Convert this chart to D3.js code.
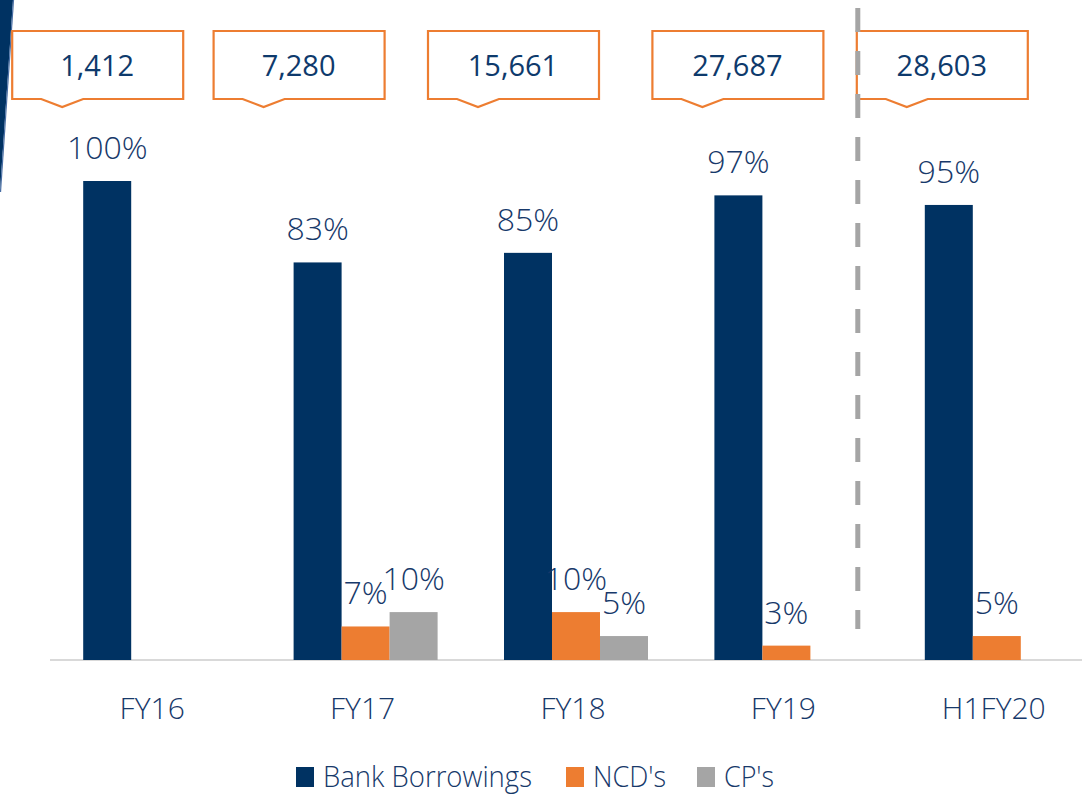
<!DOCTYPE html>
<html lang="en">
<head>
  <meta charset="UTF-8">
  <title>Borrowing mix</title>
  <style>
    html, body { margin: 0; padding: 0; background: #fff; }
    svg { display: block; font-family: "Open Sans", "Noto Sans", sans-serif; font-weight: 300; }
  </style>
</head>
<body>
  <div id="svg"></div>
<script src="https://cdn.jsdelivr.net/npm/d3@7/dist/d3.min.js"></script>
<script type="text/javascript">
  // data (percent of total borrowings)
  const categories = ["FY16", "FY17", "FY18", "FY19", "H1FY20"]
  const seriesNames = ["Bank Borrowings", "NCD's", "CP's"]
  const bank = [100, 83, 85, 97, 95]
  const ncd = [null, 7, 10, 3, 5]
  const cp = [null, 10, 5, null, null]
  // total borrowings shown in the callouts
  const totals = [1412, 7280, 15661, 27687, 28603]

  // layout
  const width = 1086
  const height = 795
  const baseY = 660
  const colors = ["#003262", "#ED7D31", "#A5A5A5"]
  const textColor = "#17396A"
  // callout box left edge relative to category centre
  const calloutLeft = [-143, -152, -148, -134, -140]

  const svg = d3.select("#svg").append("svg").attr("width", width).attr("height", height)

  // decorative slanted band top-left
  svg.append("path").attr("d", "M0,0 L13,0 L0,192 Z").attr("fill", "#003262")
  svg.append("line").attr("x1", 13.5).attr("y1", 0).attr("x2", 0.5).attr("y2", 192)
    .attr("stroke", "#4A6FA5").attr("stroke-width", 1.2)

  const x = d3.scaleBand().domain(categories).range([50, 1102]).paddingInner(0)
  const xs = d3.scaleBand().domain(seriesNames).range([-72, 72])
  const y = d3.scaleLinear().domain([0, 100]).range([baseY, 181])

  const rows = []
  categories.forEach((c, i) => {
    [bank[i], ncd[i], cp[i]].forEach((v, j) => {
      if (v != null) rows.push({ cat: c, s: seriesNames[j], v: v, j: j })
    })
  })
  const cx = c => x(c) + x.bandwidth() / 2

  // axis line
  svg.append("line").attr("x1", 50).attr("x2", 1082).attr("y1", baseY).attr("y2", baseY)
    .attr("stroke", "#D9D9D9").attr("stroke-width", 2)

  // bars
  svg.selectAll("rect.bar").data(rows).enter().append("rect")
    .attr("class", "bar")
    .attr("fill", d => colors[d.j])
    .attr("x", d => cx(d.cat) + xs(d.s))
    .attr("y", d => y(d.v))
    .attr("width", xs.bandwidth())
    .attr("height", d => baseY - y(d.v))

  // value labels
  svg.selectAll("text.val").data(rows).enter().append("text")
    .attr("class", "val")
    .attr("x", d => cx(d.cat) + xs(d.s) + xs.bandwidth() / 2)
    .attr("y", d => y(d.v) - 22)
    .attr("text-anchor", "middle")
    .attr("font-size", "32px")
    .attr("fill", textColor)
    .text(d => d.v + "%")

  // category labels
  svg.selectAll("text.cat").data(categories).enter().append("text")
    .attr("class", "cat")
    .attr("x", d => cx(d) - 3)
    .attr("y", 719)
    .attr("text-anchor", "middle")
    .attr("font-size", "30px")
    .attr("fill", textColor)
    .text(d => d)

  // callouts
  const boxW = 171, boxH = 68, boxTop = 31
  const fmt = d3.format(",")
  const callouts = svg.selectAll("g.callout").data(categories).enter().append("g")
    .attr("class", "callout")
    .attr("transform", (d, i) => `translate(${cx(d) + calloutLeft[i]},${boxTop})`)
  callouts.append("path")
    .attr("d", `M0,0 H${boxW} V${boxH} H71 L50,${boxH + 8} L29,${boxH} H0 Z`)
    .attr("fill", "#fff")
    .attr("stroke", "#ED7D31")
    .attr("stroke-width", 2.2)
  callouts.append("text")
    .attr("x", 85)
    .attr("y", boxH / 2 + 11)
    .attr("text-anchor", "middle")
    .attr("font-size", "29px")
    .attr("font-weight", 400)
    .attr("fill", "#0E3A6C")
    .text((d, i) => fmt(totals[i]))

  // dashed divider before H1FY20
  const divX = cx("H1FY20") - 139
  svg.append("line")
    .attr("x1", divX).attr("x2", divX).attr("y1", 8).attr("y2", 629)
    .attr("stroke", "#A5A5A5").attr("stroke-width", 5)
    .attr("stroke-dasharray", "24 19")

  // legend
  const legendX = [296, 566, 697]
  const legendW = [209, 73, 50]
  const legend = svg.selectAll("g.legend").data(seriesNames).enter().append("g")
    .attr("class", "legend")
    .attr("transform", (d, i) => `translate(${legendX[i]},767)`)
  legend.append("rect").attr("width", 18).attr("height", 20).attr("fill", (d, i) => colors[i])
  legend.append("text")
    .attr("x", 27).attr("y", 20)
    .attr("font-size", "30px")
    .attr("textLength", (d, i) => legendW[i])
    .attr("lengthAdjust", "spacingAndGlyphs")
    .attr("fill", textColor)
    .text(d => d)
</script>
</body>
</html>
